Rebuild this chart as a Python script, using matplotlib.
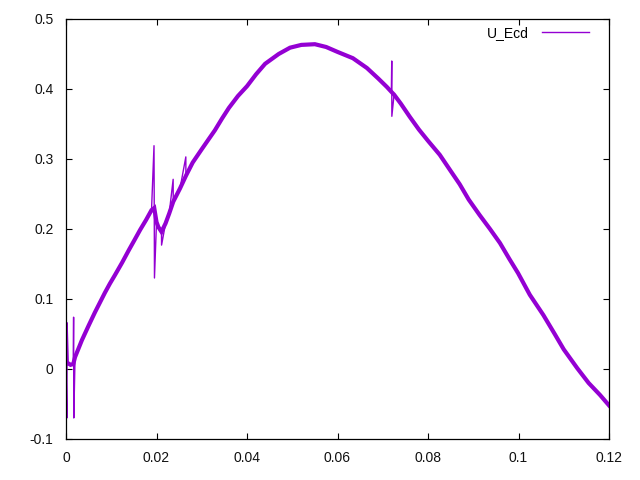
import matplotlib
matplotlib.use("Agg")
import matplotlib.pyplot as plt

# U_Ecd readings: the trend of the band (time in s, value)
t = [0.0, 0.0005, 0.0010, 0.0016, 0.0020, 0.0035, 0.0050, 0.0064, 0.0075,
     0.0086, 0.0097, 0.0108, 0.0124, 0.0139, 0.0152, 0.0164, 0.0177, 0.0189,
     0.0195, 0.0200, 0.0204, 0.0211, 0.0220, 0.0228, 0.0237, 0.0252, 0.0265,
     0.0280, 0.0300, 0.0315, 0.0329, 0.0345, 0.0360, 0.0380, 0.0400, 0.0420,
     0.0440, 0.0470, 0.0495, 0.0520, 0.0550, 0.0575, 0.0600, 0.0634, 0.0665,
     0.0690, 0.0709, 0.0719, 0.0725, 0.0740, 0.0760, 0.0780, 0.0800, 0.0826,
     0.0850, 0.0870, 0.0890, 0.0914, 0.0937, 0.0959, 0.0980, 0.0999, 0.1025,
     0.1055, 0.1080, 0.1100, 0.1130, 0.1155, 0.1180, 0.1200]
u_ecd = [0.007, 0.008, 0.006, 0.007, 0.017, 0.041, 0.062, 0.081, 0.095,
         0.109, 0.122, 0.134, 0.152, 0.170, 0.185, 0.199, 0.213, 0.227,
         0.230, 0.210, 0.203, 0.196, 0.208, 0.222, 0.239, 0.258, 0.276,
         0.295, 0.314, 0.328, 0.341, 0.358, 0.373, 0.390, 0.404, 0.421,
         0.436, 0.450, 0.459, 0.463, 0.464, 0.460, 0.453, 0.444, 0.430,
         0.415, 0.403, 0.396, 0.392, 0.379, 0.360, 0.342, 0.326, 0.306,
         0.283, 0.264, 0.242, 0.220, 0.200, 0.180, 0.157, 0.137, 0.106,
         0.077, 0.050, 0.028, 0.001, -0.020, -0.037, -0.052]

# thin single-sample excursions seen on top of the band
t_spike = [0.00020, 0.00024, 0.00168, 0.00172, 0.01945, 0.01955, 0.02112,
           0.02368, 0.02648, 0.07199, 0.07201]
u_spike = [-0.070, 0.066, 0.074, -0.070, 0.319, 0.130, 0.177,
           0.271, 0.303, 0.440, 0.361]

x_ticks = [0, 0.02, 0.04, 0.06, 0.08, 0.1, 0.12]
x_labels = ["0", "0.02", "0.04", "0.06", "0.08", "0.1", "0.12"]
y_ticks = [-0.1, 0, 0.1, 0.2, 0.3, 0.4, 0.5]
y_labels = ["-0.1", "0", "0.1", "0.2", "0.3", "0.4", "0.5"]

plt.rcParams["font.family"] = ["Liberation Sans", "DejaVu Sans"]
plt.rcParams["font.size"] = 10

fig = plt.figure(figsize=(6.4, 4.8), dpi=100)
ax = fig.add_axes([66 / 640, 41 / 480, 543 / 640, 420 / 480])

# full series = trend samples with the spikes merged in, in time order
full = sorted(zip(t + t_spike, u_ecd + u_spike))
ax.plot(t, u_ecd, color="#9400d3", lw=3.0, solid_joinstyle="miter")
ax.plot([p[0] for p in full], [p[1] for p in full], color="#9400d3",
        lw=1.0, label="U_Ecd")

ax.set_xlim(0, 0.12)
ax.set_ylim(-0.1, 0.5)
ax.set_xticks(x_ticks)
ax.set_xticklabels(x_labels)
ax.set_yticks(y_ticks)
ax.set_yticklabels(y_labels)
ax.tick_params(direction="in", length=4, width=0.8, top=True, right=True,
               pad=9, labelcolor="#111111")
for s in ax.spines.values():
    s.set_linewidth(0.9)

ax.legend(loc="upper right", frameon=False, markerfirst=False,
          handlelength=3.4, handletextpad=0.9,
          bbox_to_anchor=(0.986, 1.014))

fig.savefig("out.png", dpi=100)
